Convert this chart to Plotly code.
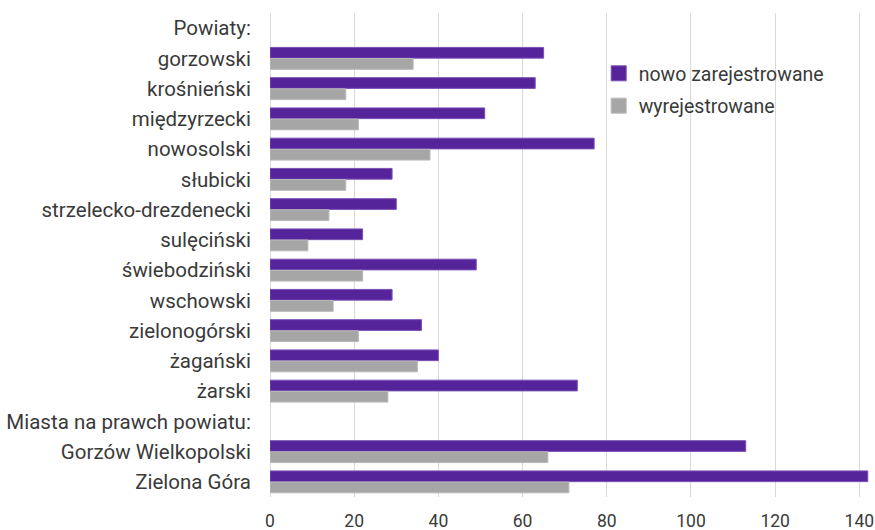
import plotly.graph_objects as go

categories = ["Powiaty:", "gorzowski", "krośnieński", "międzyrzecki", "nowosolski", "słubicki",
              "strzelecko-drezdenecki", "sulęciński", "świebodziński", "wschowski",
              "zielonogórski", "żagański", "żarski", "Miasta na prawch powiatu:",
              "Gorzów Wielkopolski", "Zielona Góra"]
nowo = [None, 65, 63, 51, 77, 29, 30, 22, 49, 29, 36, 40, 73, None, 113, 142]
wyrej = [None, 34, 18, 21, 38, 18, 14, 9, 22, 15, 21, 35, 28, None, 66, 71]
x_ticks = [0, 20, 40, 60, 80, 100, 120, 140]
series_names = ["nowo zarejestrowane", "wyrejestrowane"]

FONT = "Roboto, Open Sans, sans-serif"
TXT = "#3a3a3a"
PURPLE = "#56249A"
PURPLE_EDGE = "#7B52B6"
GRAY = "#A6A6A6"
GRAY_EDGE = "#B9B9B9"

fig = go.Figure()
fig.add_trace(go.Bar(y=categories, x=nowo, orientation="h", name=series_names[0],
                     marker=dict(color=PURPLE, line=dict(color=PURPLE_EDGE, width=1)),
                     showlegend=False))
fig.add_trace(go.Bar(y=categories, x=wyrej, orientation="h", name=series_names[1],
                     marker=dict(color=GRAY, line=dict(color=GRAY_EDGE, width=1)),
                     showlegend=False))
# legend entries with larger square swatches
for i, (name, col, edge) in enumerate([(series_names[0], PURPLE, PURPLE_EDGE),
                                        (series_names[1], GRAY, GRAY_EDGE)]):
    fig.add_trace(go.Scatter(x=[None], y=[None], mode="markers", name=name,
                             legendgroup=f"g{i}",
                             marker=dict(symbol="square", size=15, color=col,
                                         line=dict(color=edge, width=1))))

fig.update_layout(
    width=875, height=530,
    margin=dict(l=270, r=3, t=13, b=33),
    paper_bgcolor="white", plot_bgcolor="white",
    barmode="group", bargap=0.26, bargroupgap=0.04,
    font=dict(family=FONT, size=20.5, color=TXT),
    xaxis=dict(range=[0, 143], tickvals=x_ticks, showgrid=True, gridcolor="#D9D9D9",
               gridwidth=1, zeroline=True, zerolinecolor="#D9D9D9", zerolinewidth=1,
               ticks="outside", ticklen=8, tickcolor="rgba(0,0,0,0)", automargin=False,
               ticklabeloverflow="allow",
               tickfont=dict(size=17.5, color=TXT), showline=False, fixedrange=True),
    yaxis=dict(categoryorder="array", categoryarray=categories, autorange="reversed",
               ticks="outside", ticklen=14, tickcolor="rgba(0,0,0,0)", automargin=False,
               tickfont=dict(size=20.5, color=TXT), showgrid=False, showline=False),
    legend=dict(x=0.546, y=0.915, xanchor="left", yanchor="top", traceorder="grouped",
                tracegroupgap=4, font=dict(size=19.5, color=TXT), bgcolor="rgba(0,0,0,0)"),
    showlegend=True,
)

fig.write_html("out.html", config={"displayModeBar": False},
               post_script="document.body.style.margin='0px';document.body.style.overflow='hidden';")
